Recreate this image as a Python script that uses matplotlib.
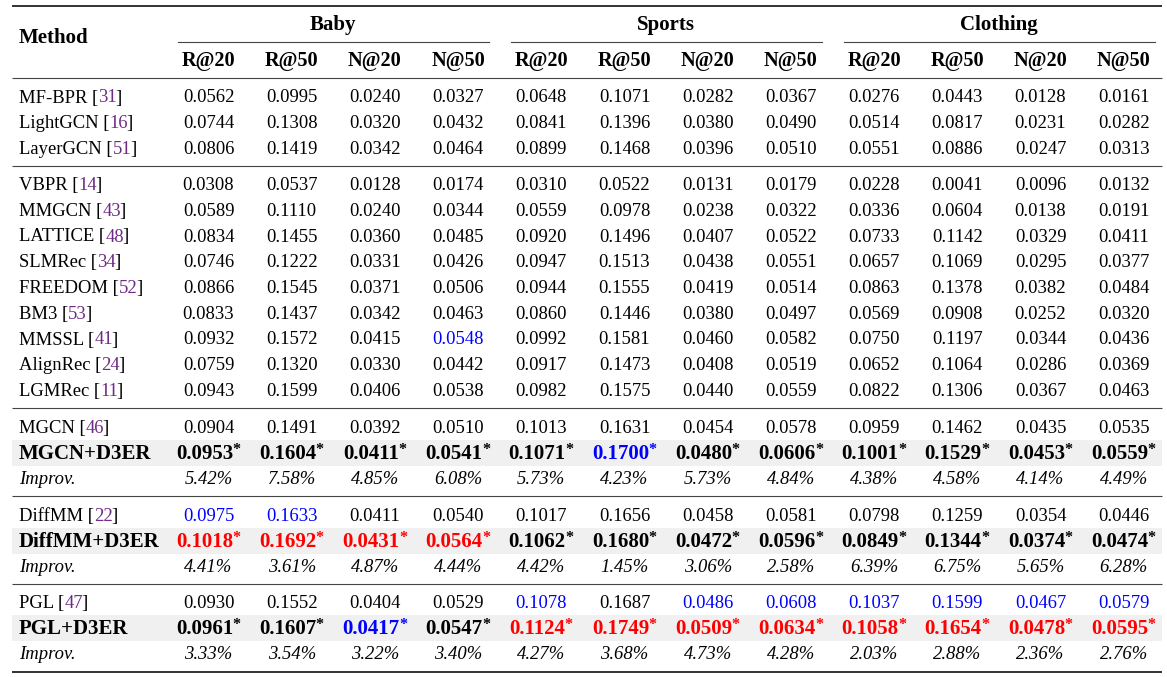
import matplotlib
matplotlib.use("Agg")
import matplotlib.pyplot as plt
from matplotlib.patches import Rectangle

# ---- data ----
datasets = ["Baby", "Sports", "Clothing"]
metrics = ["R@20", "R@50", "N@20", "N@50"]

general_methods = ["MF-BPR", "LightGCN", "LayerGCN"]
general_cites = [31, 16, 51]
general_vals = [
    [0.0562, 0.0995, 0.0240, 0.0327, 0.0648, 0.1071, 0.0282, 0.0367, 0.0276, 0.0443, 0.0128, 0.0161],
    [0.0744, 0.1308, 0.0320, 0.0432, 0.0841, 0.1396, 0.0380, 0.0490, 0.0514, 0.0817, 0.0231, 0.0282],
    [0.0806, 0.1419, 0.0342, 0.0464, 0.0899, 0.1468, 0.0396, 0.0510, 0.0551, 0.0886, 0.0247, 0.0313],
]

mm_methods = ["VBPR", "MMGCN", "LATTICE", "SLMRec", "FREEDOM", "BM3", "MMSSL", "AlignRec", "LGMRec"]
mm_cites = [14, 43, 48, 34, 52, 53, 41, 24, 11]
mm_vals = [
    [0.0308, 0.0537, 0.0128, 0.0174, 0.0310, 0.0522, 0.0131, 0.0179, 0.0228, 0.0041, 0.0096, 0.0132],
    [0.0589, 0.1110, 0.0240, 0.0344, 0.0559, 0.0978, 0.0238, 0.0322, 0.0336, 0.0604, 0.0138, 0.0191],
    [0.0834, 0.1455, 0.0360, 0.0485, 0.0920, 0.1496, 0.0407, 0.0522, 0.0733, 0.1142, 0.0329, 0.0411],
    [0.0746, 0.1222, 0.0331, 0.0426, 0.0947, 0.1513, 0.0438, 0.0551, 0.0657, 0.1069, 0.0295, 0.0377],
    [0.0866, 0.1545, 0.0371, 0.0506, 0.0944, 0.1555, 0.0419, 0.0514, 0.0863, 0.1378, 0.0382, 0.0484],
    [0.0833, 0.1437, 0.0342, 0.0463, 0.0860, 0.1446, 0.0380, 0.0497, 0.0569, 0.0908, 0.0252, 0.0320],
    [0.0932, 0.1572, 0.0415, 0.0548, 0.0992, 0.1581, 0.0460, 0.0582, 0.0750, 0.1197, 0.0344, 0.0436],
    [0.0759, 0.1320, 0.0330, 0.0442, 0.0917, 0.1473, 0.0408, 0.0519, 0.0652, 0.1064, 0.0286, 0.0369],
    [0.0943, 0.1599, 0.0406, 0.0538, 0.0982, 0.1575, 0.0440, 0.0559, 0.0822, 0.1306, 0.0367, 0.0463],
]

backbones = ["MGCN", "DiffMM", "PGL"]
backbone_cites = [46, 22, 47]
backbone_vals = [
    [0.0904, 0.1491, 0.0392, 0.0510, 0.1013, 0.1631, 0.0454, 0.0578, 0.0959, 0.1462, 0.0435, 0.0535],
    [0.0975, 0.1633, 0.0411, 0.0540, 0.1017, 0.1656, 0.0458, 0.0581, 0.0798, 0.1259, 0.0354, 0.0446],
    [0.0930, 0.1552, 0.0404, 0.0529, 0.1078, 0.1687, 0.0486, 0.0608, 0.1037, 0.1599, 0.0467, 0.0579],
]
d3er_vals = [
    [0.0953, 0.1604, 0.0411, 0.0541, 0.1071, 0.1700, 0.0480, 0.0606, 0.1001, 0.1529, 0.0453, 0.0559],
    [0.1018, 0.1692, 0.0431, 0.0564, 0.1062, 0.1680, 0.0472, 0.0596, 0.0849, 0.1344, 0.0374, 0.0474],
    [0.0961, 0.1607, 0.0417, 0.0547, 0.1124, 0.1749, 0.0509, 0.0634, 0.1058, 0.1654, 0.0478, 0.0595],
]
improv = [
    [5.42, 7.58, 4.85, 6.08, 5.73, 4.23, 5.73, 4.84, 4.38, 4.58, 4.14, 4.49],
    [4.41, 3.61, 4.87, 4.44, 4.42, 1.45, 3.06, 2.58, 6.39, 6.75, 5.65, 6.28],
    [3.33, 3.54, 3.22, 3.40, 4.27, 3.68, 4.73, 4.28, 2.03, 2.88, 2.36, 2.76],
]

# ---- style ----
FONT = "Liberation Serif"
FS = 13.4          # regular text
FSB = 15.0         # bold text (reference bold face runs wider)
CITE = "#6f2c85"
BLUE = "#0000ff"
RED = "#ff0000"
W, H = 1167, 677
X_LEFT, X_RIGHT = 12, 1162
X_NAME = 19
COL0, DCOL = 208.5, 83.2
STEP = 25.6
cols = [COL0 + i * DCOL for i in range(12)]

# best / second best per column
all_rows = general_vals + mm_vals + backbone_vals + d3er_vals
best, second = [], []
for j in range(12):
    s = sorted({r[j] for r in all_rows}, reverse=True)
    best.append(s[0]); second.append(s[1])

def val_color(v, j):
    if v == best[j]:
        return RED
    if v == second[j]:
        return BLUE
    return "black"

fig = plt.figure(figsize=(W / 100, H / 100), dpi=100)
ax = fig.add_axes([0, 0, 1, 1])
ax.set_xlim(0, W); ax.set_ylim(H, 0); ax.axis("off")
renderer = fig.canvas.get_renderer()

def txt(x, y, s, **kw):
    kw.setdefault("family", FONT)
    kw.setdefault("fontsize", FS)
    kw.setdefault("va", "baseline")
    return ax.text(x, y + 6, s, **kw)

def width(t):
    return t.get_window_extent(renderer).width

def name_cite(y, name, cite):
    t = txt(X_NAME, y, name + " [")
    x = X_NAME + width(t)
    t2 = txt(x, y, str(cite), color=CITE)
    x += width(t2) - 1.5
    txt(x, y, "]")

def plain_row(y, vals):
    for j, v in enumerate(vals):
        txt(cols[j], y, f"{v:.4f}", ha="center", color=val_color(v, j))

def star_row(y, vals):
    for j, v in enumerate(vals):
        c = val_color(v, j)
        t = txt(0, y, f"{v:.4f}", fontsize=FSB, fontweight="bold", color=c)
        s = txt(0, y - 4.8, "*", fontsize=11.5, fontweight="bold", color=c)
        w1, w2 = width(t), width(s)
        x0 = cols[j] - (w1 + w2) / 2
        t.set_x(x0); s.set_x(x0 + w1 - 0.5)

def improv_row(y, vals):
    txt(X_NAME, y, "Improv.", style="italic")
    for j, v in enumerate(vals):
        txt(cols[j], y, f"{v:.2f}%", ha="center", style="italic")

def rule(y, lw=0.8, color="#444"):
    ax.plot([X_LEFT, X_RIGHT], [y, y], color=color, lw=lw, solid_capstyle="butt")

# header
rule(6, lw=1.3, color="#222")
txt(X_NAME, 37, "Method", fontsize=FSB, fontweight="bold")
for g, d in enumerate(datasets):
    c0, c3 = cols[4 * g], cols[4 * g + 3]
    txt((c0 + c3) / 2, 24, d, ha="center", fontsize=FSB, fontweight="bold")
    ax.plot([c0 - 30.5, c3 + 31], [42, 42], color="#444", lw=0.8)
    for k, m in enumerate(metrics):
        txt(cols[4 * g + k], 60, m, ha="center", fontsize=FSB - 0.4, fontweight="bold")
rule(78)

# general CF
y = 96.5
for n, c, v in zip(general_methods, general_cites, general_vals):
    name_cite(y, n, c); plain_row(y, v); y += STEP
rule(166)

# multimodal
y = 184
for n, c, v in zip(mm_methods, mm_cites, mm_vals):
    name_cite(y, n, c); plain_row(y, v); y += 25.75
rule(408)

# backbones + D3ER
for b, (y0, ybot) in enumerate([(427, 496), (515, 583.5), (602, 672)]):
    y1 = y0 + STEP
    ax.add_patch(Rectangle((X_LEFT, y1 - 13), X_RIGHT - X_LEFT, 26, fc="#f0f0f0", ec="none", zorder=0))
    name_cite(y0, backbones[b], backbone_cites[b])
    plain_row(y0, backbone_vals[b])
    txt(X_NAME, y1, backbones[b] + "+D3ER", fontsize=FSB, fontweight="bold")
    star_row(y1, d3er_vals[b])
    improv_row(y1 + STEP, improv[b])
    if b < 2:
        rule(ybot)
    else:
        rule(ybot, lw=1.3, color="#222")

fig.savefig("out.png", dpi=100, facecolor="white")
